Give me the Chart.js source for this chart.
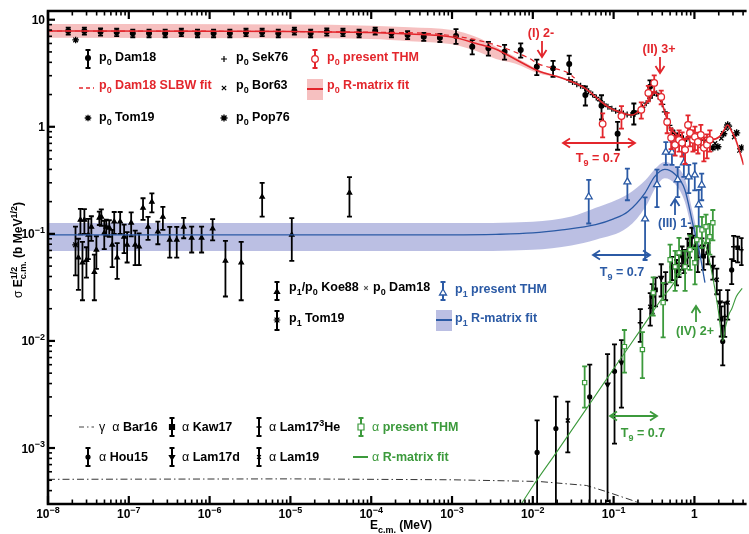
<!DOCTYPE html>
<html lang="en">
<head>
<meta charset="UTF-8">
<title>sigma E^1/2 vs E c.m.</title>
<script src="https://cdn.jsdelivr.net/npm/chart.js"></script>
<style>
  html, body { margin: 0; padding: 0; background: #fff; }
</style>
</head>
<body>
<canvas id="chart" width="749" height="534"></canvas>
<script>
// ---- data: E c.m. in MeV, sigma*E^1/2 in b MeV^1/2 ----

// p0 Dam18
const dam18P0E = [1.78e-8, 2.82e-8, 4.47e-8, 7.08e-8, 1.12e-7, 1.78e-7, 2.82e-7, 4.47e-7, 7.08e-7, 1.12e-6,
  1.78e-6, 2.82e-6, 4.47e-6, 7.08e-6, 1.12e-5, 1.78e-5, 2.82e-5, 4.47e-5, 7.08e-5, 1.12e-4,
  1.78e-4, 2.82e-4, 4.47e-4, 7.08e-4, 1.12e-3, 1.78e-3, 2.82e-3, 4.47e-3, 7.08e-3, 0.0112,
  0.0178, 0.0282, 0.0447, 0.0708, 0.112, 0.178, 0.282];
const dam18P0S = [7.85, 7.85, 7.7, 7.63, 7.46, 7.46, 7.46, 7.63, 7.46, 7.46, 7.46, 7.63,
  7.63, 7.46, 7.85, 7.46, 7.7, 7.63, 7.46, 7.85, 7.46, 7.2, 6.94, 6.79, 7.05, 5.6, 5.41,
  5.03, 5.22, 3.64, 3.52, 3.86, 1.98, 1.57, 0.86, 1.35, 2.36];
const dam18P0Err = [0.6, 0.6, 0.6, 0.6, 0.6, 0.6, 0.6, 0.6, 0.6, 0.6, 0.6, 0.6,
  0.6, 0.6, 0.6, 0.6, 0.6, 0.6, 0.6, 0.6, 0.6, 0.6, 0.6, 0.6, 1.1, 0.85, 0.8,
  0.8, 0.8, 0.6, 0.6, 0.75, 0.4, 0.4, 0.25, 0.3, 0.35];

// p0 Tom19
const tom19P0E = [2.2e-8];
const tom19P0S = [6.47];

// p0 Sek76
const sek76E = [0.028, 0.031, 0.035, 0.039, 0.044, 0.049, 0.055, 0.061, 0.068, 0.076, 0.085, 0.095,
  0.106, 0.118, 0.132, 0.147, 0.164, 0.183, 0.204, 0.227, 0.253, 0.282, 0.30, 0.32, 0.34, 0.36,
  0.38, 0.40, 0.43, 0.46, 0.49, 0.53, 0.57, 0.62, 0.67, 0.73, 0.80, 0.87, 0.95, 1.03, 1.12, 1.22, 1.33];
const sek76S = [2.75, 2.62, 2.5, 2.42, 2.3, 2.15, 2.0, 1.88, 1.75, 1.63, 1.54, 1.47,
  1.41, 1.37, 1.33, 1.30, 1.29, 1.32, 1.40, 1.52, 1.66, 1.85, 1.98, 2.08, 2.05, 1.95,
  1.82, 1.62, 1.38, 1.18, 1.03, 0.93, 0.87, 0.83, 0.80, 0.78, 0.77, 0.76, 0.76, 0.76, 0.75, 0.76, 0.75];

// p0 Bor63, p0 Pop76
const bor63E = [1.5, 1.8, 2.15, 2.45, 2.75, 3.1, 3.6];
const bor63S = [0.74, 0.7, 0.78, 0.96, 0.98, 0.8, 0.6];
const pop76E = [1.69, 1.95, 2.3, 2.58, 3.33, 3.84];
const pop76S = [0.636, 0.65, 0.86, 1.04, 0.877, 0.636];

// p0 present THM
const thmP0E = [0.0731, 0.125, 0.220, 0.269, 0.318, 0.388, 0.460, 0.515, 0.576, 0.646, 0.703,
  0.766, 0.833, 0.881, 0.959, 1.015, 1.105, 1.20, 1.31, 1.43, 1.55];
const thmP0S = [1.065, 1.26, 1.44, 2.07, 2.57, 1.90, 1.11, 0.789, 0.678, 0.755, 0.708,
  0.609, 1.04, 0.877, 0.755, 0.805, 0.723, 0.841, 0.636, 0.678, 0.755];
const thmP0Err = [0.27, 0.3, 0.25, 0.34, 0.45, 0.28, 0.24, 0.17, 0.14, 0.17, 0.18,
  0.16, 0.24, 0.22, 0.17, 0.2, 0.16, 0.2, 0.16, 0.17, 0.17];

// p0 R-matrix fit and band, p0 Dam18 SLBW fit
const fitP0E = [1e-8, 1e-6, 1e-5, 1e-4, 3e-4, 1e-3, 2e-3, 3.5e-3, 6e-3, 0.0119, 0.02, 0.031, 0.044,
  0.06, 0.086, 0.128, 0.17, 0.225, 0.275, 0.316, 0.375, 0.432, 0.497, 0.607, 0.76, 1.1, 1.62,
  2.04, 2.3, 2.57, 2.9, 3.2, 3.5, 4.06];
const fitP0S = [7.85, 7.8, 7.75, 7.6, 7.35, 6.9, 6.0, 5.3, 4.3, 3.3, 2.95, 2.62, 2.3,
  1.9, 1.53, 1.35, 1.29, 1.5, 1.78, 2.07, 1.9, 1.35, 1.0, 0.84, 0.77, 0.76, 0.76,
  0.81, 0.92, 1.04, 0.9, 0.78, 0.64, 0.44];
const bandP0E = [1e-8, 1e-5, 1e-4, 3e-4, 1e-3, 2e-3, 3.5e-3, 6e-3, 0.0119, 0.02, 0.031];
const bandP0Hi = [9.1, 9.0, 8.8, 8.5, 8.0, 6.9, 5.6, 4.5, 3.4, 3.0, 2.66];
const bandP0Lo = [6.8, 6.7, 6.6, 6.3, 5.9, 5.1, 4.3, 3.9, 3.15, 2.9, 2.58];
const slbwE = [1e-8, 1e-4, 1e-3, 3e-3, 6e-3, 9e-3, 0.0119, 0.02, 0.027, 0.033];
const slbwS = [7.85, 7.65, 7.1, 6.0, 5.0, 4.36, 3.85, 3.45, 3.2, 2.85];

// p1/p0 Koe88 x p0 Dam18, p1 Tom19
const koe88E = [2.38e-8, 2.52e-8, 2.67e-8, 2.82e-8, 2.99e-8, 3.16e-8, 3.44e-8, 3.75e-8, 3.97e-8, 4.32e-8,
  4.57e-8, 4.97e-8, 5.26e-8, 5.73e-8, 6.24e-8, 6.6e-8, 7.18e-8, 7.82e-8, 8.75e-8, 9.53e-8,
  1.07e-7, 1.2e-7, 1.34e-7, 1.5e-7, 1.73e-7, 1.93e-7, 2.29e-7, 2.64e-7, 3.21e-7, 3.92e-7,
  4.78e-7, 6.0e-7, 7.96e-7, 1.09e-6, 1.57e-6, 2.46e-6, 4.47e-6, 1.04e-5, 5.38e-5];
const koe88S = [0.060, 0.135, 0.054, 0.135, 0.057, 0.098, 0.116, 0.044, 0.071, 0.141,
  0.144, 0.102, 0.116, 0.114, 0.079, 0.13, 0.060, 0.13, 0.094, 0.079,
  0.127, 0.079, 0.076, 0.175, 0.116, 0.199, 0.105, 0.144, 0.088, 0.088,
  0.116, 0.092, 0.092, 0.112, 0.056, 0.054, 0.222, 0.098, 0.242];
const koe88Err = [0.03, 0.036, 0.03, 0.035, 0.018, 0.04, 0.03, 0.02, 0.024, 0.02,
  0.025, 0.03, 0.02, 0.02, 0.03, 0.03, 0.022, 0.03, 0.028, 0.025,
  0.032, 0.028, 0.025, 0.04, 0.028, 0.04, 0.025, 0.035, 0.028, 0.028,
  0.025, 0.025, 0.025, 0.025, 0.03, 0.03, 0.077, 0.042, 0.097];
const tom19P1E = [2.19e-8];
const tom19P1S = [0.079];
const tom19P1Err = [0.038];

// p1 present THM, p1 R-matrix fit and band
const thmP1E = [0.0492, 0.148, 0.245, 0.344, 0.443, 0.527, 0.62, 0.74, 0.85, 1.01, 1.13, 1.23];
const thmP1S = [0.222, 0.306, 0.138, 0.288, 0.58, 0.58, 0.32, 0.46, 0.34, 0.355, 0.187, 0.286];
const thmP1Err = [0.097, 0.1, 0.081, 0.11, 0.14, 0.14, 0.1, 0.12, 0.1, 0.1, 0.07, 0.08];
const fitP1E = [1e-8, 1e-3, 3.5e-3, 0.01, 0.023, 0.06, 0.1, 0.151, 0.245, 0.32, 0.43, 0.575, 0.76, 0.95, 1.17, 1.35];
const fitP1S = [0.098, 0.098, 0.099, 0.102, 0.109, 0.122, 0.138, 0.162, 0.242, 0.341, 0.40, 0.36, 0.26, 0.126, 0.064, 0.035];
const bandP1E = [1e-8, 1e-3, 0.01, 0.03, 0.06, 0.15, 0.25, 0.33, 0.43, 0.58, 0.76, 0.95, 1.17];
const bandP1Lo = [0.069, 0.069, 0.071, 0.078, 0.088, 0.115, 0.18, 0.27, 0.33, 0.29, 0.2, 0.1, 0.05];
const bandP1Hi = [0.126, 0.126, 0.13, 0.145, 0.175, 0.235, 0.32, 0.41, 0.47, 0.43, 0.33, 0.16, 0.08];

// alpha channel data sets
const hou15E = [0.0113, 0.0193, 0.0506, 0.1026, 0.30, 0.529, 0.743, 1.015, 1.47, 2.24, 2.89];
const hou15S = [9.1e-4, 1.52e-3, 3.0e-3, 5.2e-3, 0.026, 0.049, 0.057, 0.074, 0.067, 0.0099, 0.046];
const hou15Err = [9e-4, 1.5e-3, 3e-3, 4.1e-3, 0.008, 0.012, 0.014, 0.018, 0.015, 0.004, 0.012];
const lam19E = [0.0271, 0.284, 0.645, 1.24, 1.89, 2.58];
const lam19S = [1.81e-3, 0.0209, 0.0515, 0.0758, 0.0373, 0.0228];
const lam19Err = [9e-4, 0.007, 0.012, 0.015, 0.01, 0.007];
const lam17dE = [0.0841, 0.125, 0.388, 0.703, 0.931, 1.69, 2.06];
const lam17dS = [3.92e-3, 6.28e-3, 0.039, 0.0612, 0.094, 0.0493, 0.0228];
const lam17dErr = [3.6e-3, 3.9e-3, 0.013, 0.015, 0.02, 0.012, 0.007];
const lam17HeE = [0.214, 0.44, 0.82, 1.1, 2.37, 3.06, 3.84];
const lam17HeS = [0.0148, 0.034, 0.07, 0.06, 0.0169, 0.0758, 0.0711];
const lam17HeErr = [0.005, 0.01, 0.02, 0.016, 0.006, 0.02, 0.02];
const kaw17E = [0.33, 0.6, 0.87, 1.3, 2.15, 3.43];
const kaw17S = [0.03, 0.045, 0.08, 0.062, 0.016, 0.0742];
const kaw17Err = [0.009, 0.012, 0.02, 0.016, 0.005, 0.02];
const thmAE = [0.0438, 0.136, 0.227, 0.309, 0.41, 0.50, 0.577, 0.645, 0.766, 0.881, 1.015, 1.07, 1.24, 1.39, 1.55, 1.69];
const thmAS = [4.08e-3, 8.85e-3, 8.3e-3, 0.0282, 0.0228, 0.0573, 0.0493, 0.0667, 0.0493, 0.0711, 0.0538, 0.0881, 0.109, 0.1165, 0.094, 0.127];
const thmAErr = [1.7e-3, 3.8e-3, 3.8e-3, 0.011, 0.012, 0.022, 0.02, 0.025, 0.02, 0.025, 0.02, 0.03, 0.035, 0.035, 0.03, 0.04];
const fitAE = [0.0072, 0.01, 0.02, 0.05, 0.1, 0.2, 0.3, 0.4, 0.5, 0.6, 0.75, 0.9, 1.05, 1.2, 1.4, 1.6, 1.8, 2.0, 2.24, 2.45, 2.7, 2.9, 3.3, 3.9];
const fitAS = [3.0e-4, 4.4e-4, 9.3e-4, 2.55e-3, 5.5e-3, 0.0117, 0.0183, 0.0252, 0.031, 0.038, 0.052, 0.07, 0.085, 0.09, 0.075, 0.048, 0.030, 0.018, 0.010, 0.014, 0.018, 0.02, 0.026, 0.031];
// gamma alpha Bar16
const bar16E = [1e-8, 1e-5, 1e-3, 0.0118, 0.046, 0.08, 0.186, 0.25];
const bar16S = [5.1e-4, 5.15e-4, 5.05e-4, 4.87e-4, 4.47e-4, 3.93e-4, 3.17e-4, 2.9e-4];

// axis ticks
const xTickVals = [1e-8, 1e-7, 1e-6, 1e-5, 1e-4, 1e-3, 1e-2, 1e-1, 1];
const xTickLabels = ['10^{−8}', '10^{−7}', '10^{−6}', '10^{−5}', '10^{−4}', '10^{−3}', '10^{−2}', '10^{−1}', '1'];
const yTickVals = [1e-3, 1e-2, 1e-1, 1, 10];
const yTickLabels = ['10^{−3}', '10^{−2}', '10^{−1}', '1', '10'];

const RED = '#e3262c', BLUE = '#2b5aa5', GREEN = '#3c9a3c';
const PINK = 'rgba(238,140,140,0.55)', LILAC = 'rgba(150,156,212,0.65)';
const FONT = "'Liberation Sans', Arial, sans-serif";

function pts(xs, ys) { return xs.map((x, i) => ({ x: x, y: ys[i] })); }

function pointSet(xs, ys, errs, style, r, stroke, fill, order, more) {
  return Object.assign({
    data: pts(xs, ys), errs: errs, barColor: stroke, showLine: false,
    pointStyle: style, pointRadius: r, borderColor: stroke, backgroundColor: fill,
    pointBorderWidth: 1.2, order: order
  }, more || {});
}

function lineSet(xs, ys, color, width, order, more) {
  return Object.assign({
    data: pts(xs, ys), showLine: true, pointRadius: 0, borderColor: color,
    borderWidth: width, cubicInterpolationMode: 'monotone', order: order, fill: false
  }, more || {});
}

// text with _{sub} ^{sup} ~{normal weight}
function rich(ctx, str, x, y, size, color, align) {
  const parts = str.match(/\^\{[^}]*\}|_\{[^}]*\}|~\{[^}]*\}|[^_^~]+/g);
  const items = [];
  let cx = 0, supX = 0, supW = 0, prev = null;
  for (const p of parts) {
    let kind = 'n', t = p, weight = 'bold';
    if (p[0] === '^') { kind = 'sup'; t = p.slice(2, -1); }
    else if (p[0] === '_') { kind = 'sub'; t = p.slice(2, -1); }
    else if (p[0] === '~') { t = p.slice(2, -1); weight = 'normal'; }
    const fs = kind === 'n' ? size : Math.round(size * 0.72);
    const font = weight + ' ' + fs + 'px ' + FONT;
    ctx.font = font;
    const w = ctx.measureText(t).width;
    let sx = cx;
    if (kind === 'sub' && prev === 'sup') {
      sx = supX; cx = supX + Math.max(supW, w);
    } else {
      if (kind === 'sup') { supX = cx; supW = w; }
      cx += w;
    }
    const dy = kind === 'sup' ? -size * 0.42 : kind === 'sub' ? size * 0.32 : 0;
    items.push({ t: t, font: font, sx: sx, dy: dy });
    prev = kind;
  }
  const x0 = align === 'center' ? x - cx / 2 : align === 'right' ? x - cx : x;
  ctx.save();
  ctx.fillStyle = color; ctx.textAlign = 'left'; ctx.textBaseline = 'alphabetic';
  for (const it of items) { ctx.font = it.font; ctx.fillText(it.t, x0 + it.sx, y + it.dy); }
  ctx.restore();
}

function marker(ctx, style, x, y, r, stroke, fill, lw) {
  ctx.save();
  ctx.strokeStyle = stroke; ctx.fillStyle = fill; ctx.lineWidth = lw || 1.2;
  ctx.beginPath();
  if (style === 'circle') { ctx.arc(x, y, r, 0, Math.PI * 2); ctx.fill(); ctx.stroke(); }
  else if (style === 'rect') { ctx.rect(x - r, y - r, 2 * r, 2 * r); ctx.fill(); ctx.stroke(); }
  else if (style === 'triangle' || style === 'triDown') {
    const s = style === 'triangle' ? 1 : -1;
    ctx.moveTo(x, y - s * r); ctx.lineTo(x + r * 0.87, y + s * r * 0.5); ctx.lineTo(x - r * 0.87, y + s * r * 0.5);
    ctx.closePath(); ctx.fill(); ctx.stroke();
  } else {
    if (style === 'cross' || style === 'star') { ctx.moveTo(x - r, y); ctx.lineTo(x + r, y); ctx.moveTo(x, y - r); ctx.lineTo(x, y + r); }
    if (style === 'crossRot' || style === 'star') {
      const d = r * 0.72;
      ctx.moveTo(x - d, y - d); ctx.lineTo(x + d, y + d); ctx.moveTo(x - d, y + d); ctx.lineTo(x + d, y - d);
    }
    ctx.stroke();
  }
  ctx.restore();
}

function errBar(ctx, x, y1, y2, color) {
  ctx.save();
  ctx.strokeStyle = color; ctx.lineWidth = 2;
  ctx.beginPath();
  ctx.moveTo(x, y1); ctx.lineTo(x, y2);
  ctx.moveTo(x - 2.5, y1); ctx.lineTo(x + 2.5, y1);
  ctx.moveTo(x - 2.5, y2); ctx.lineTo(x + 2.5, y2);
  ctx.stroke();
  ctx.restore();
}

function hline(ctx, x1, x2, y, color, width, dash) {
  ctx.save();
  ctx.strokeStyle = color; ctx.lineWidth = width; ctx.setLineDash(dash || []);
  ctx.beginPath(); ctx.moveTo(x1, y); ctx.lineTo(x2, y); ctx.stroke();
  ctx.restore();
}

function arrow(ctx, x1, y1, x2, y2, color, both) {
  ctx.save();
  ctx.strokeStyle = color; ctx.lineWidth = 1.8;
  ctx.beginPath(); ctx.moveTo(x1, y1); ctx.lineTo(x2, y2);
  const head = (tx, ty, fx, fy) => {
    const L = Math.hypot(tx - fx, ty - fy), ux = (tx - fx) / L, uy = (ty - fy) / L;
    ctx.moveTo(tx - ux * 7 - uy * 4.5, ty - uy * 7 + ux * 4.5); ctx.lineTo(tx, ty);
    ctx.lineTo(tx - ux * 7 + uy * 4.5, ty - uy * 7 - ux * 4.5);
  };
  head(x2, y2, x1, y1);
  if (both) head(x1, y1, x2, y2);
  ctx.stroke();
  ctx.restore();
}

// error bars drawn just before each dataset's own markers
const errorBars = {
  id: 'errorBars',
  beforeDatasetDraw(chart, args) {
    const ds = chart.data.datasets[args.index];
    if (!ds.errs) return;
    const { ctx, chartArea: a, scales: { x, y } } = chart;
    ctx.save();
    ctx.beginPath(); ctx.rect(a.left, a.top, a.right - a.left, a.bottom - a.top); ctx.clip();
    ctx.strokeStyle = ds.barColor; ctx.lineWidth = 1.8;
    ds.data.forEach((p, i) => {
      const e = ds.errs[i];
      const px = x.getPixelForValue(p.x);
      const lo = p.y - e > 0 ? y.getPixelForValue(p.y - e) : a.bottom + 5;
      const hi = y.getPixelForValue(p.y + e);
      ctx.beginPath();
      ctx.moveTo(px, lo); ctx.lineTo(px, hi);
      ctx.moveTo(px - 2.5, lo); ctx.lineTo(px + 2.5, lo);
      ctx.moveTo(px - 2.5, hi); ctx.lineTo(px + 2.5, hi);
      ctx.stroke();
    });
    ctx.restore();
  }
};

// frame, inward ticks, labels, legend and annotations
const frame = {
  id: 'frame',
  afterDraw(chart) {
    const { ctx, chartArea: a, scales: { x, y } } = chart;
    ctx.save();
    ctx.strokeStyle = '#000'; ctx.lineWidth = 2.6;
    ctx.beginPath();
    ctx.moveTo(a.right + 3, a.top); ctx.lineTo(a.left, a.top); ctx.lineTo(a.left, a.bottom); ctx.lineTo(a.right + 3, a.bottom);
    ctx.stroke();
    for (let d = -8; d <= 0; d++) {
      for (let m = 1; m <= 9; m++) {
        const v = m * Math.pow(10, d);
        if (v > x.max) continue;
        const px = x.getPixelForValue(v), len = m === 1 ? 8 : 4.5;
        ctx.lineWidth = m === 1 ? 2.2 : 1.6;
        ctx.beginPath();
        ctx.moveTo(px, a.bottom); ctx.lineTo(px, a.bottom - len);
        ctx.moveTo(px, a.top); ctx.lineTo(px, a.top + len);
        ctx.stroke();
      }
    }
    for (let d = -4; d <= 1; d++) {
      for (let m = 1; m <= 9; m++) {
        const v = m * Math.pow(10, d);
        if (v < y.min || v > y.max) continue;
        const py = y.getPixelForValue(v), len = m === 1 ? 7 : 4;
        ctx.lineWidth = m === 1 ? 2.2 : 1.6;
        ctx.beginPath(); ctx.moveTo(a.left, py); ctx.lineTo(a.left + len, py); ctx.stroke();
      }
    }
    ctx.restore();

    xTickVals.forEach((v, i) => rich(ctx, xTickLabels[i], x.getPixelForValue(v), a.bottom + 14, 12, '#000', 'center'));
    yTickVals.forEach((v, i) => rich(ctx, yTickLabels[i], a.left - 3, y.getPixelForValue(v) + 4.5, 12, '#000', 'right'));

    rich(ctx, 'E_{c.m.} (MeV)', 401, 529, 12, '#000', 'center');
    ctx.save();
    ctx.translate(22, 250); ctx.rotate(-Math.PI / 2);
    rich(ctx, '~{σ} E^{1/2}_{c.m.} (b MeV^{1/2})', 0, 0, 12, '#000', 'center');
    ctx.restore();

    // legend: p0
    errBar(ctx, 88, 50, 68, '#000'); marker(ctx, 'circle', 88, 58, 2.4, '#000', '#000');
    rich(ctx, 'p_{0} Dam18', 99, 61, 12.5, '#000');
    hline(ctx, 79, 94, 88, RED, 1.3, [4, 3]);
    rich(ctx, 'p_{0} Dam18 SLBW fit', 99, 89, 12.5, RED);
    marker(ctx, 'star', 88, 118, 3.3, '#000', '#000', 1.3);
    rich(ctx, 'p_{0} Tom19', 99, 121, 12.5, '#000');
    marker(ctx, 'cross', 224, 59, 3, '#000', '#000', 1.2);
    rich(ctx, 'p_{0} Sek76', 236, 61, 12.5, '#000');
    marker(ctx, 'crossRot', 224, 88, 3, '#000', '#000', 1.2);
    rich(ctx, 'p_{0} Bor63', 236, 89, 12.5, '#000');
    marker(ctx, 'star', 224, 118, 3.5, '#000', '#000', 1.4);
    rich(ctx, 'p_{0} Pop76', 236, 121, 12.5, '#000');
    errBar(ctx, 315, 50, 68, RED); marker(ctx, 'circle', 315, 59, 3.3, RED, '#fff', 1.3);
    rich(ctx, 'p_{0} present THM', 327, 61, 12.5, RED);
    ctx.fillStyle = PINK; ctx.fillRect(307, 79, 16, 21);
    hline(ctx, 307, 323, 89, RED, 2);
    rich(ctx, 'p_{0} R-matrix fit', 327, 89, 12.5, RED);

    // legend: p1
    errBar(ctx, 277, 282, 300, '#000'); marker(ctx, 'triangle', 277, 292, 3, '#000', '#000');
    rich(ctx, 'p_{1}/p_{0} Koe88', 289, 291, 12.5, '#000');
    marker(ctx, 'crossRot', 366, 288, 2.5, '#555', '#555', 1.2);
    rich(ctx, 'p_{0} Dam18', 373, 291, 12.5, '#000');
    errBar(ctx, 277, 311, 330, '#000'); marker(ctx, 'star', 277, 320, 3.3, '#000', '#fff', 1.2);
    rich(ctx, 'p_{1} Tom19', 289, 322, 12.5, '#000');
    errBar(ctx, 443, 282, 300, BLUE); marker(ctx, 'triangle', 443, 293, 4, BLUE, '#fff', 1.3);
    rich(ctx, 'p_{1} present THM', 455, 293, 12.5, BLUE);
    ctx.fillStyle = LILAC; ctx.fillRect(436, 310, 16, 21);
    hline(ctx, 436, 452, 320, BLUE, 2);
    rich(ctx, 'p_{1} R-matrix fit', 455, 322, 12.5, BLUE);

    // legend: alpha
    hline(ctx, 79, 94, 427, '#444', 1.2, [5, 3, 1.5, 3]);
    rich(ctx, '~{γ  α} Bar16', 99, 431, 12.5, '#000');
    errBar(ctx, 172, 418, 436, '#000'); marker(ctx, 'rect', 172, 427, 2.5, '#000', '#000');
    rich(ctx, '~{α} Kaw17', 182, 431, 12.5, '#000');
    errBar(ctx, 259, 418, 436, '#000'); marker(ctx, 'cross', 259, 427, 2.5, '#000', '#000', 1.4);
    rich(ctx, '~{α} Lam17^{3}He', 269, 431, 12.5, '#000');
    errBar(ctx, 361, 418, 436, GREEN); marker(ctx, 'rect', 361, 427, 3, GREEN, '#fff', 1.2);
    rich(ctx, '~{α} present THM', 372, 431, 12.5, GREEN);
    errBar(ctx, 88, 448, 466, '#000'); marker(ctx, 'circle', 88, 457, 2, '#000', '#000');
    rich(ctx, '~{α} Hou15', 99, 461, 12.5, '#000');
    errBar(ctx, 172, 448, 466, '#000'); marker(ctx, 'triDown', 172, 457, 3, '#000', '#000');
    rich(ctx, '~{α} Lam17d', 182, 461, 12.5, '#000');
    errBar(ctx, 259, 448, 466, '#000'); marker(ctx, 'crossRot', 259, 457, 2.6, '#000', '#000', 1.4);
    rich(ctx, '~{α} Lam19', 269, 461, 12.5, '#000');
    hline(ctx, 353, 368, 457, GREEN, 2);
    rich(ctx, '~{α} R-matrix fit', 372, 461, 12.5, GREEN);

    // resonance labels and temperature windows
    rich(ctx, '(I) 2-', 541, 37, 12.5, RED, 'center');
    arrow(ctx, 542, 41, 542, 57, RED);
    rich(ctx, '(II) 3+', 659, 53, 12.5, RED, 'center');
    arrow(ctx, 660, 57, 660, 73, RED);
    arrow(ctx, 563, 143, 635, 143, RED, true);
    rich(ctx, 'T_{9} = 0.7', 598, 162, 12.5, RED, 'center');

    rich(ctx, '(III) 1-', 658, 227, 12.5, BLUE);
    arrow(ctx, 675, 215, 675, 199, BLUE);
    arrow(ctx, 593, 255, 650, 255, BLUE, true);
    rich(ctx, 'T_{9} = 0.7', 622, 276, 12.5, BLUE, 'center');

    rich(ctx, '(IV) 2+', 695, 335, 12.5, GREEN, 'center');
    arrow(ctx, 696, 322, 696, 306, GREEN);
    arrow(ctx, 610, 416, 657, 416, GREEN, true);
    rich(ctx, 'T_{9} = 0.7', 643, 437, 12.5, GREEN, 'center');
  }
};

const datasets = [
  // THM points on top
  pointSet(thmP0E, thmP0S, thmP0Err, 'circle', 3.3, RED, '#fff', 1, { pointBorderWidth: 1.3 }),
  pointSet(thmAE, thmAS, thmAErr, 'rect', 3, GREEN, '#fff', 1),
  pointSet(thmP1E, thmP1S, thmP1Err, 'triangle', 4, BLUE, '#fff', 2, { pointBorderWidth: 1.3 }),
  // fits
  lineSet(fitP0E, fitP0S, RED, 1.6, 3),
  lineSet(slbwE, slbwS, RED, 1.2, 3, { borderDash: [5, 4] }),
  lineSet(fitP1E, fitP1S, BLUE, 1.3, 3),
  lineSet(fitAE, fitAS, GREEN, 1.1, 3),
  // black data
  pointSet(dam18P0E, dam18P0S, dam18P0Err, 'circle', 2.4, '#000', '#000', 4),
  pointSet(tom19P0E, tom19P0S, null, 'star', 3.3, '#000', '#000', 4, { pointBorderWidth: 1.3 }),
  pointSet(sek76E, sek76S, null, 'cross', 3, '#000', '#000', 4, { pointBorderWidth: 1.3 }),
  pointSet(bor63E, bor63S, null, 'crossRot', 3, '#000', '#000', 4),
  pointSet(pop76E, pop76S, null, 'star', 3.6, '#000', '#000', 4, { pointBorderWidth: 1.4 }),
  pointSet(koe88E, koe88S, koe88Err, 'triangle', 2.6, '#000', '#000', 4),
  pointSet(tom19P1E, tom19P1S, tom19P1Err, 'star', 3.3, '#000', '#fff', 4),
  pointSet(hou15E, hou15S, hou15Err, 'circle', 2, '#000', '#000', 5),
  pointSet(lam19E, lam19S, lam19Err, 'crossRot', 2.8, '#000', '#000', 5, { pointBorderWidth: 1.4 }),
  pointSet(lam17dE, lam17dS, lam17dErr, 'triangle', 2.8, '#000', '#000', 5, { pointRotation: 180 }),
  pointSet(lam17HeE, lam17HeS, lam17HeErr, 'cross', 2.6, '#000', '#000', 5, { pointBorderWidth: 1.4 }),
  pointSet(kaw17E, kaw17S, kaw17Err, 'rect', 2.4, '#000', '#000', 5),
  // gamma curve
  lineSet(bar16E, bar16S, '#333', 1, 8, { borderDash: [7, 3, 1.5, 3], cubicInterpolationMode: 'default' }),
  // bands (upper fills down to the following lower edge)
  lineSet(bandP0E, bandP0Hi, 'rgba(0,0,0,0)', 0, 10, { fill: '+1', backgroundColor: PINK }),
  lineSet(bandP0E, bandP0Lo, 'rgba(0,0,0,0)', 0, 10),
  lineSet(bandP1E, bandP1Hi, 'rgba(0,0,0,0)', 0, 10, { fill: '+1', backgroundColor: LILAC }),
  lineSet(bandP1E, bandP1Lo, 'rgba(0,0,0,0)', 0, 10)
];

new Chart(document.getElementById('chart'), {
  type: 'scatter',
  data: { datasets: datasets },
  options: {
    responsive: false,
    animation: false,
    events: [],
    layout: { padding: { top: 11, right: 0, left: 0, bottom: 0 } },
    plugins: { legend: { display: false }, tooltip: { enabled: false } },
    scales: {
      x: {
        type: 'logarithmic', min: 1e-8, max: 4.06,
        grid: { display: false }, border: { display: false }, ticks: { display: false },
        afterFit(s) { s.height = 30; }
      },
      y: {
        type: 'logarithmic', min: 3.03e-4, max: 12.06,
        grid: { display: false }, border: { display: false }, ticks: { display: false },
        afterFit(s) { s.width = 48; }
      }
    }
  },
  plugins: [errorBars, frame]
});
</script>
</body>
</html>
